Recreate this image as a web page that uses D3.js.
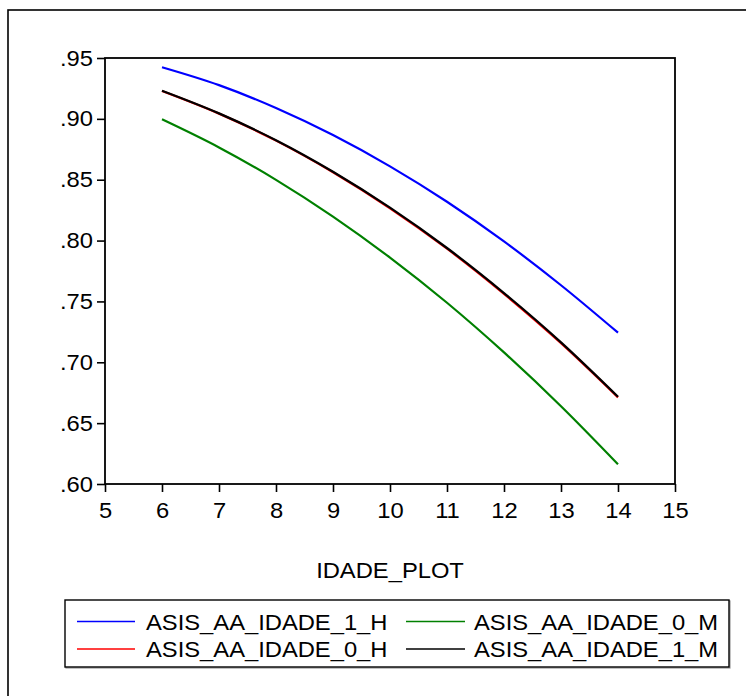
<!DOCTYPE html>
<html>
<head>
<meta charset="utf-8">
<script src="https://cdn.jsdelivr.net/npm/d3@7"></script>
<style>
  html, body { margin: 0; padding: 0; background: #fff; }
  svg { display: block; }
  text { font-family: Arial, "Liberation Sans", sans-serif; fill: #000; }
</style>
</head>
<body>
<script>
// Age values shared by all series
const ages = [6, 7, 8, 9, 10, 11, 12, 13, 14];

// Fitted values per series
const asis1H = [0.9424, 0.9277, 0.9089, 0.8867, 0.8610, 0.8319, 0.7993, 0.7633, 0.7243];
const asis0H = [0.9229, 0.9043, 0.8821, 0.8561, 0.8265, 0.7933, 0.7562, 0.7157, 0.6712];
const asis0M = [0.8996, 0.8765, 0.8499, 0.8197, 0.7860, 0.7489, 0.7081, 0.6639, 0.6162];
const asis1M = [0.9231, 0.9045, 0.8824, 0.8565, 0.8270, 0.7939, 0.7569, 0.7164, 0.6717];

// Axis ticks
const xTicks = [5, 6, 7, 8, 9, 10, 11, 12, 13, 14, 15];
const yTicks = [0.60, 0.65, 0.70, 0.75, 0.80, 0.85, 0.90, 0.95];

const seriesNames = ["ASIS_AA_IDADE_1_H", "ASIS_AA_IDADE_0_H", "ASIS_AA_IDADE_0_M", "ASIS_AA_IDADE_1_M"];
const seriesColors = ["#0000ff", "#ff0000", "#008000", "#000000"];
const seriesValues = [asis1H, asis0H, asis0M, asis1M];

const W = 746, H = 696;
const plot = { left: 105, right: 675, top: 58, bottom: 484 };
const FS = 22, SX = 1.08;

const svg = d3.select("body").append("svg").attr("width", W).attr("height", H);

// Outer frame
svg.append("rect")
  .attr("x", 8).attr("y", 10).attr("width", W + 20).attr("height", H + 20)
  .attr("fill", "none").attr("stroke", "#000").attr("stroke-width", 1.6);

const x = d3.scaleLinear().domain([5, 15]).range([plot.left, plot.right]);
const y = d3.scaleLinear().domain([0.60, 0.95]).range([plot.bottom, plot.top]);

// Bottom axis
const gx = svg.append("g")
  .attr("transform", `translate(0,${plot.bottom})`)
  .call(d3.axisBottom(x).tickValues(xTicks).tickSize(8).tickSizeOuter(0).tickFormat(d3.format("d")));
gx.select(".domain").remove();
gx.selectAll(".tick line").attr("stroke", "#000").attr("stroke-width", 1.6);
gx.selectAll(".tick text")
  .attr("y", 34).attr("dy", null)
  .attr("font-size", FS).attr("font-family", "Arial, 'Liberation Sans', sans-serif")
  .attr("fill", "#000")
  .attr("transform", `scale(${SX},1)`);

// Left axis
const fmtY = d => d3.format(".2f")(d).replace(/^0/, "");
const gy = svg.append("g")
  .attr("transform", `translate(${plot.left},0)`)
  .call(d3.axisLeft(y).tickValues(yTicks).tickSize(8).tickSizeOuter(0).tickFormat(fmtY));
gy.select(".domain").remove();
gy.selectAll(".tick line").attr("stroke", "#000").attr("stroke-width", 1.6);
gy.selectAll(".tick text")
  .attr("x", -12 / SX).attr("dy", null).attr("y", 7)
  .attr("text-anchor", "end")
  .attr("font-size", FS).attr("font-family", "Arial, 'Liberation Sans', sans-serif")
  .attr("fill", "#000")
  .attr("transform", `scale(${SX},1)`);

// Curves
const line = d3.line()
  .x((d, i) => x(ages[i]))
  .y(d => y(d))
  .curve(d3.curveMonotoneX);

const drawOrder = [0, 2, 1, 3];
drawOrder.forEach(k => {
  svg.append("path")
    .datum(seriesValues[k])
    .attr("d", line)
    .attr("fill", "none")
    .attr("stroke", seriesColors[k])
    .attr("stroke-width", 2.2);
});

// Plot frame
svg.append("rect")
  .attr("x", plot.left).attr("y", plot.top)
  .attr("width", plot.right - plot.left).attr("height", plot.bottom - plot.top)
  .attr("fill", "none").attr("stroke", "#000").attr("stroke-width", 1.8);

// X axis title
svg.append("text")
  .attr("transform", `translate(390,578) scale(${SX},1)`)
  .attr("text-anchor", "middle")
  .attr("font-size", FS)
  .text("IDADE_PLOT");

// Legend
const lg = { x0: 65, x1: 729, y0: 600, y1: 667 };
svg.append("rect")
  .attr("x", lg.x0 + 1).attr("y", lg.y0 + 1)
  .attr("width", lg.x1 - lg.x0).attr("height", lg.y1 - lg.y0)
  .attr("fill", "none").attr("stroke", "#999").attr("stroke-width", 1.2);
svg.append("rect")
  .attr("x", lg.x0).attr("y", lg.y0)
  .attr("width", lg.x1 - lg.x0).attr("height", lg.y1 - lg.y0)
  .attr("fill", "#fff").attr("stroke", "#000").attr("stroke-width", 1.4);

const legendItems = [
  { k: 0, sx0: 77, sx1: 135, tx: 146, base: 629.5 },
  { k: 1, sx0: 77, sx1: 135, tx: 146, base: 657 },
  { k: 2, sx0: 406, sx1: 465, tx: 474, base: 629.5 },
  { k: 3, sx0: 406, sx1: 465, tx: 474, base: 657 }
];
const li = svg.selectAll("g.legend-item").data(legendItems).join("g").attr("class", "legend-item");
li.append("line")
  .attr("x1", d => d.sx0).attr("x2", d => d.sx1)
  .attr("y1", d => d.base - 8).attr("y2", d => d.base - 8)
  .attr("stroke", d => seriesColors[d.k]).attr("stroke-width", 1.4);
li.append("text")
  .attr("transform", d => `translate(${d.tx},${d.base}) scale(${SX},1)`)
  .attr("font-size", FS)
  .text(d => seriesNames[d.k]);
</script>
</body>
</html>
